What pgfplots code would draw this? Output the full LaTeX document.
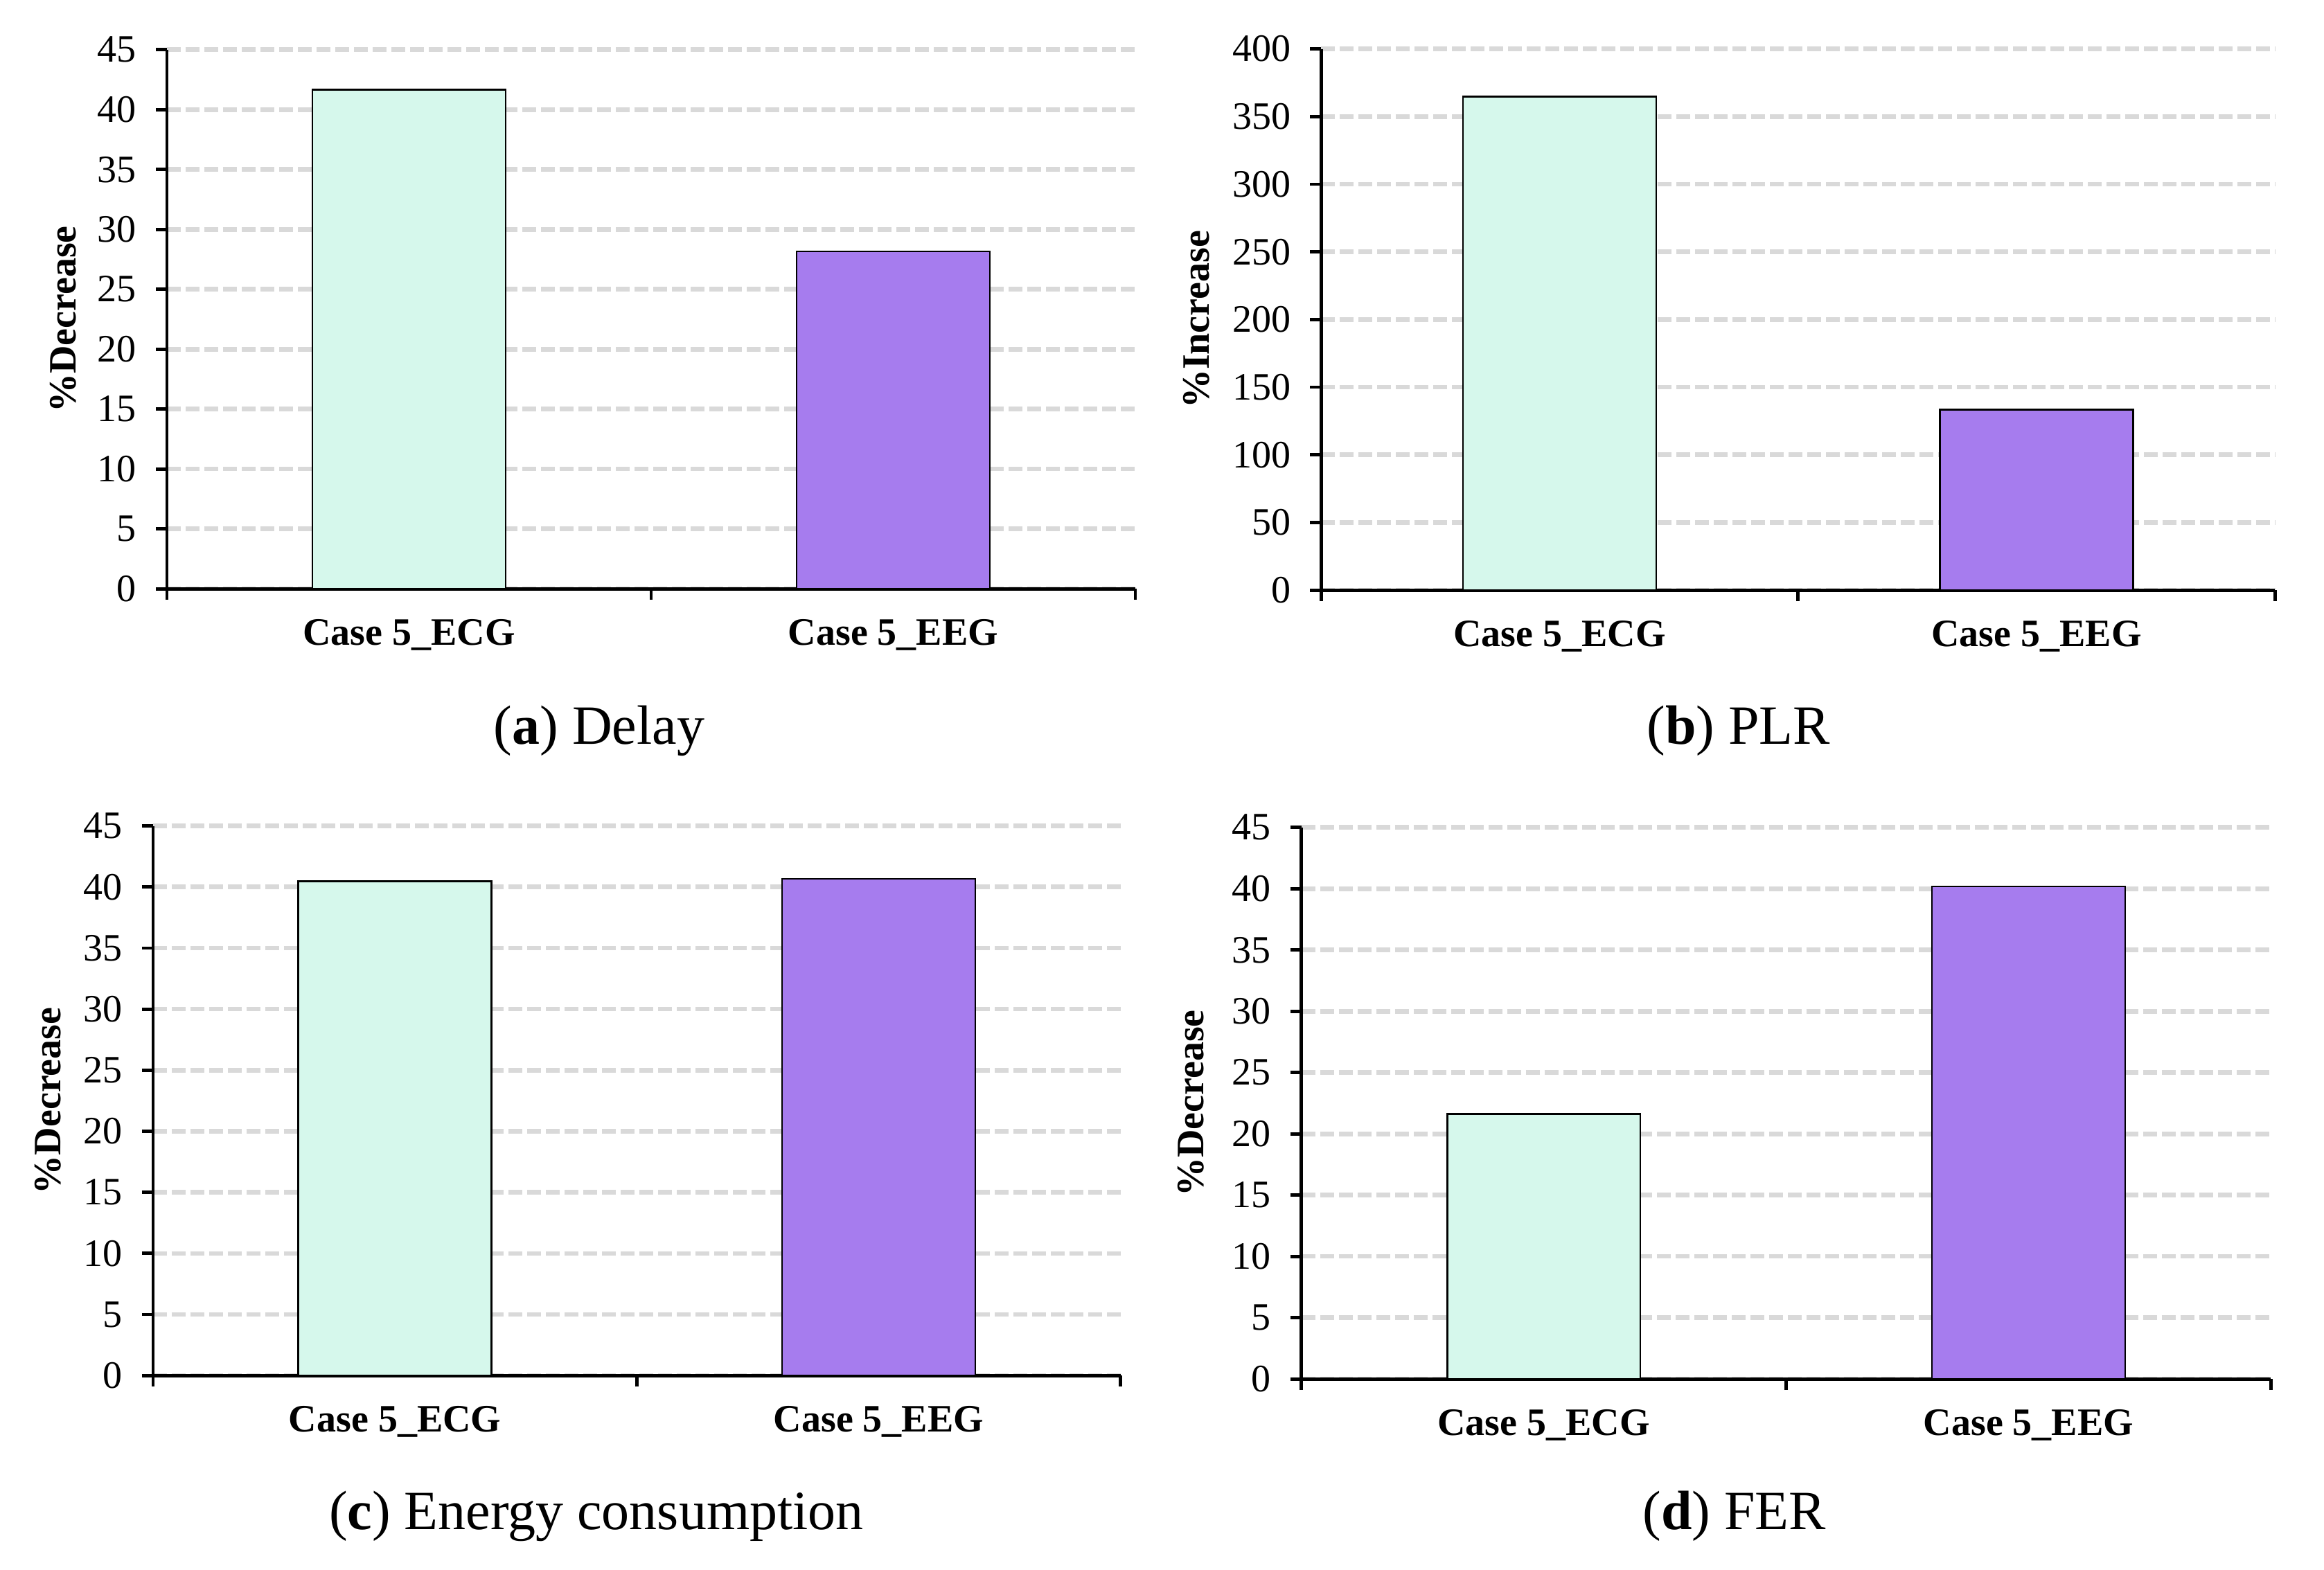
\documentclass[border=0pt]{standalone}
\usepackage{fontspec}
\setmainfont{Liberation Serif}
\usepackage{pgfplots}
\pgfplotsset{compat=1.18}
\definecolor{ecg}{RGB}{214,248,236}
\definecolor{eeg}{RGB}{166,124,238}
\definecolor{gridc}{RGB}{217,217,217}
\pgfplotsset{
 panel/.style={
  scale only axis,
  axis x line=bottom, axis y line=left,
  axis line style={-, line width=1.2pt, black},
  xmin=-0.5, xmax=1.5, ymin=0,
  xtick={-0.5,0.5,1.5},
  x tick label as interval,
  xticklabels={Case 5\_ECG, Case 5\_EEG},
  major tick length=4pt,
  tick align=outside,
  tick style={black, line width=1.2pt},
  ymajorgrids,
  grid style={gridc, line width=1.65pt, dash pattern=on 5pt off 1.75pt},
  xticklabel style={font=\fontsize{14}{16}\selectfont\bfseries, yshift=-3.5pt},
  yticklabel style={font=\fontsize{14}{16}\selectfont, xshift=-3.5pt},
  /pgf/number format/assume math mode=true,
  ylabel style={font=\fontsize{14}{16}\selectfont\bfseries, at={(axis description cs:0,0.5)}, anchor=center},
  ybar, bar width=69.7pt,
 },
 ecgbar/.style={fill=ecg, draw=black, line width=0.65pt, bar shift=0pt},
 eegbar/.style={fill=eeg, draw=black, line width=0.65pt, bar shift=0pt},
}
\begin{document}
\begin{tikzpicture}
\useasboundingbox (0,0) rectangle (838.75pt,566.75pt);
% (a)
\begin{axis}[panel, at={(60.25pt,354.2pt)}, anchor=south west,
  width=349.5pt, height=194.6pt, ymax=45, ytick={0,5,...,45},
  ylabel={\%Decrease}, ylabel style={yshift=37.5pt}]
\addplot[ecgbar] coordinates {(0,41.68)};
\addplot[eegbar] coordinates {(1,28.16)};
\end{axis}
% (b)
\begin{axis}[panel, at={(476.8pt,353.7pt)}, anchor=south west,
  width=344.3pt, height=195.4pt, ymax=400, ytick={0,50,...,400},
  ylabel={\%Increase}, ylabel style={yshift=45pt}]
\addplot[ecgbar] coordinates {(0,364.6)};
\addplot[eegbar] coordinates {(1,133.4)};
\end{axis}
% (c)
\begin{axis}[panel, at={(55.25pt,70.2pt)}, anchor=south west,
  width=349.2pt, height=198.4pt, ymax=45, ytick={0,5,...,45},
  ylabel={\%Decrease}, ylabel style={yshift=38pt}]
\addplot[ecgbar] coordinates {(0,40.47)};
\addplot[eegbar] coordinates {(1,40.67)};
\end{axis}
% (d)
\begin{axis}[panel, at={(469.7pt,68.95pt)}, anchor=south west,
  width=349.9pt, height=199.1pt, ymax=45, ytick={0,5,...,45},
  ylabel={\%Decrease}, ylabel style={yshift=40pt}]
\addplot[ecgbar] coordinates {(0,21.63)};
\addplot[eegbar] coordinates {(1,40.19)};
\end{axis}
\node[anchor=base, font=\fontsize{20}{24}\selectfont] at (216.25pt,298pt) {(\textbf{a}) Delay};
\node[anchor=base, font=\fontsize{20}{24}\selectfont] at (627.5pt,298pt) {(\textbf{b}) PLR};
\node[anchor=base, font=\fontsize{20}{24}\selectfont] at (215.25pt,14.5pt) {(\textbf{c}) Energy consumption};
\node[anchor=base, font=\fontsize{20}{24}\selectfont] at (626pt,14.5pt) {(\textbf{d}) FER};
\end{tikzpicture}
\end{document}
